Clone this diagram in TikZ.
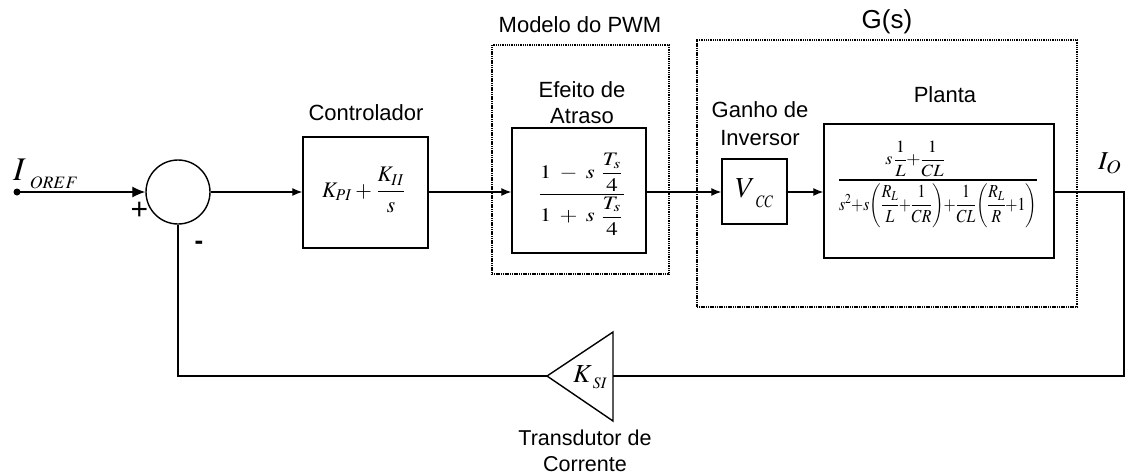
\documentclass[tikz,border=0pt]{standalone}
\usepackage{mathptmx}
\usepackage{amsmath}
\usepackage[no-math]{fontspec}
\setmainfont{Liberation Sans}
\usepackage{graphicx}
\usetikzlibrary{arrows.meta}
\begin{document}
\begin{tikzpicture}[x=1pt,y=-1pt,
  blk/.style={draw, line width=1.4pt, inner sep=0pt},
  dotbox/.style={draw, line width=1.4pt, dash pattern=on 1.1pt off 0.7pt, inner sep=0pt},
  lab/.style={font=\fontsize{22}{26}\selectfont, align=center, inner sep=0pt},
  conn/.style={line width=1.3pt},
  arr/.style={conn, -{Latex[length=10pt,width=8pt]}},
  bigarr/.style={conn, -{Latex[length=13pt,width=11pt]}},
  mth/.style={inner sep=0pt}
]
\useasboundingbox (0,0) rectangle (1131,475);

% frames
\node[dotbox, minimum width=177pt, minimum height=229pt] (pwm) at (580.5,159.5) {};
\node[dotbox, minimum width=380pt, minimum height=267pt] (gs) at (887,173.5) {};

% blocks
\coordinate (in) at (17,192);
\fill (in) circle (3.5);
\node[draw, circle, line width=1.4pt, minimum size=64pt, inner sep=0pt] (sum) at (178,192) {};
\node[blk, minimum width=125pt, minimum height=111pt] (ctrl) at (365.5,192.5) {};
\node[blk, minimum width=134pt, minimum height=125pt] (eff) at (579,190.5) {};
\node[blk, minimum width=65pt, minimum height=65pt] (vcc) at (754.5,191.5) {};
\node[blk, minimum width=230pt, minimum height=134pt] (planta) at (939,191) {};

% formulas
\node[mth] (fctrl) at (364.5,190) {\resizebox*{85pt}{45pt}{$K_{PI}+\dfrac{K_{II}}{s}$}};
\node[mth] (feff) at (582,194) {\resizebox*{90pt}{82pt}{$\dfrac{1\;-\;s\;\dfrac{T_s}{4}}{1\;+\;s\;\dfrac{T_s}{4}}$}};
\node[mth, anchor=base west] (fvcc) at (735,197) {\fontsize{29}{32}\selectfont$V$\kern1pt\raisebox{-10pt}{\resizebox*{17pt}{12pt}{$CC$}}};
\node[mth] (fplanta) at (938,184.5) {\fontsize{26}{30}\selectfont$\dfrac{\resizebox*{59pt}{35pt}{$s\,\dfrac{1}{L}{+}\dfrac{1}{CL}$}}{\resizebox*{198pt}{44pt}{$s^2{+}s\!\left(\dfrac{R_L}{L}{+}\dfrac{1}{CR}\right)\!{+}\dfrac{1}{CL}\!\left(\dfrac{R_L}{R}{+}1\right)$}}$};
\node[mth, anchor=base west] (iref) at (13,180) {\fontsize{33}{36}\selectfont$I$\kern4pt\raisebox{-8pt}{\resizebox*{48pt}{12pt}{$OREF$}}};
\node[mth] (io) at (1110,163.5) {\resizebox*{24pt}{21pt}{$I_O$}};

% labels
\node[lab] (lctrl) at (366,113) {Controlador};
\node[lab] (lpwm) at (580,25) {Modelo do PWM};
\node[lab] (leff) at (582,103) {Efeito de\\Atraso};
\node[lab] (lgan) at (760,124) {Ganho de\\[2pt]Inversor};
\node[lab] (lplanta) at (945,95) {Planta};
\node[lab, font=\fontsize{26}{30}\selectfont] (lgs) at (887,22) {G(s)};
\node[lab, font=\fontsize{21.5}{26}\selectfont] (ltr) at (585,450.5) {Transdutor de\\Corrente};
\node[inner sep=0pt, font=\fontsize{30}{34}\selectfont] (plus) at (139.5,211) {+};
\node[inner sep=0pt, font=\fontsize{26}{30}\selectfont\bfseries] (minus) at (199,245) {-};

% transducer triangle
\coordinate (ttip) at (547,376);
\coordinate (tbase) at (613,376);
\draw[line width=1.4pt, line join=miter] (ttip) -- (613,332) -- (613,421) -- cycle;
\node[mth, anchor=base west] (ksi) at (573,382) {\fontsize{26}{30}\selectfont$K$\kern1pt\raisebox{-6pt}{\resizebox*{14pt}{11pt}{$SI$}}};

% connectors
\draw[bigarr] (in) -- (sum.west);
\draw[arr] (sum.east) -- (sum.east -| ctrl.west);
\draw[arr] (ctrl.east |- sum.east) -- (sum.east -| eff.west);
\draw[arr] (eff.east |- sum.east) -- (sum.east -| vcc.west);
\draw[arr] (vcc.east |- sum.east) -- (sum.east -| planta.west);
\coordinate (outc) at (1124,192);
\coordinate (fbr) at (1124,376);
\coordinate (fbl) at (178,376);
\draw[conn] (planta.east |- outc) -- (outc) -- (fbr) -- (tbase);
\draw[conn] (ttip) -- (fbl) -- (sum.south);
\end{tikzpicture}
\end{document}
